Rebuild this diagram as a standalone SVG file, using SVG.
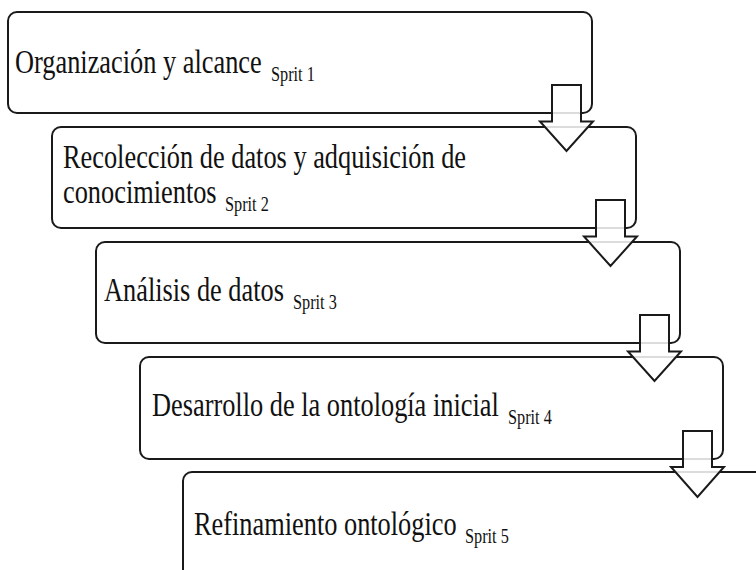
<svg xmlns="http://www.w3.org/2000/svg" width="756" height="570" viewBox="0 0 756 570">
<style>
.box{fill:#fff;stroke:#1a1a1a;stroke-width:2}
.arr{fill:#fff;fill-opacity:0.85;stroke:#1a1a1a;stroke-width:2;stroke-linejoin:miter}
.t{font-family:"Liberation Serif","Times New Roman",serif;font-size:34px;fill:#111}
.s{font-family:"Liberation Serif","Times New Roman",serif;font-size:21px;fill:#111}
</style>
<rect width="756" height="570" fill="#fff"/>
<g id="node1">
<rect class="box" x="8" y="12" width="584" height="101" rx="9"/>
<text class="t" transform="translate(15 73) scale(0.775 1)">Organización y alcance</text>
<text class="s" transform="translate(271 81) scale(0.775 1)">Sprit 1</text>
</g>
<g id="node2">
<rect class="box" x="52" y="127" width="584" height="101" rx="9"/>
<text class="t" transform="translate(63 168) scale(0.775 1)">Recolección de datos y adquisición de</text>
<text class="t" transform="translate(63 203) scale(0.775 1)">conocimientos</text>
<text class="s" transform="translate(225 211) scale(0.775 1)">Sprit 2</text>
</g>
<g id="node3">
<rect class="box" x="96" y="242" width="584" height="101" rx="9"/>
<text class="t" transform="translate(104 301) scale(0.775 1)">Análisis de datos</text>
<text class="s" transform="translate(293 309) scale(0.775 1)">Sprit 3</text>
</g>
<g id="node4">
<rect class="box" x="140" y="357" width="583" height="102" rx="9"/>
<text class="t" transform="translate(152 416) scale(0.775 1)">Desarrollo de la ontología inicial</text>
<text class="s" transform="translate(508 424) scale(0.775 1)">Sprit 4</text>
</g>
<g id="node5">
<rect class="box" x="183" y="472" width="590" height="110" rx="9"/>
<text class="t" transform="translate(194 535) scale(0.775 1)">Refinamiento ontológico</text>
<text class="s" transform="translate(465 543) scale(0.775 1)">Sprit 5</text>
</g>
<g id="connectors">
<path class="arr" d="M552 85 H581 V121.5 H593 L566.5 151 L540 121.5 H552 Z"/>
<path class="arr" d="M596 200 H625 V236.5 H637 L610.5 266 L584 236.5 H596 Z"/>
<path class="arr" d="M640 315 H669 V351.5 H681 L654.5 381 L628 351.5 H640 Z"/>
<path class="arr" d="M683 431 H712 V467 H724 L697.5 497 L671 467 H683 Z"/>
</g>
</svg>
